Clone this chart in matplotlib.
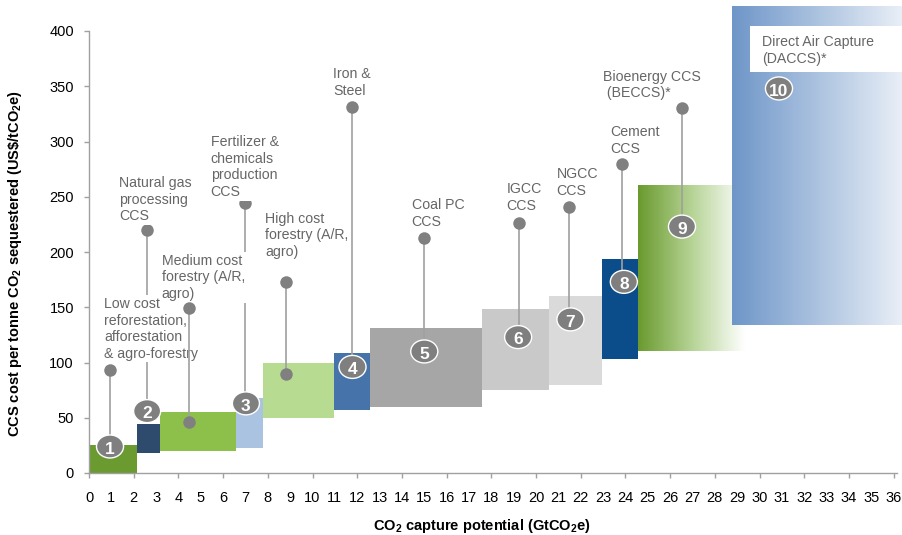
import numpy as np
import matplotlib
matplotlib.use("Agg")
import matplotlib.pyplot as plt
from matplotlib.patches import Ellipse, Rectangle
from matplotlib.colors import LinearSegmentedColormap

plt.rcParams['font.family'] = ['Liberation Sans', 'DejaVu Sans']
plt.rcParams['mathtext.fontset'] = 'custom'
plt.rcParams['mathtext.rm'] = 'Liberation Sans'
plt.rcParams['mathtext.bf'] = 'Liberation Sans:bold'

# ── Data ───────────────────────────────────────────────────────────────────
# solid cost blocks: x from/to (GtCO2e), cost low/high (US$/tCO2e)
bar_x0 = [0.0, 2.16, 3.18, 6.57, 7.78, 10.97, 12.57, 17.58, 20.59, 22.97]
bar_x1 = [2.16, 3.18, 6.57, 7.78, 10.97, 12.57, 17.58, 20.59, 22.97, 24.54]
bar_lo = [0, 18, 20, 23, 50, 57, 60, 75, 80, 103]
bar_hi = [25, 44, 55, 68, 100, 109, 131, 148, 160, 194]
bar_colors = ['#6a9a30', '#2e4a6d', '#8cc04a', '#a9c3e0', '#b8db92',
              '#4673aa', '#a6a6a6', '#c9c9c9', '#dadada', '#0b4d8b']

# gradient blocks (BECCS, DACCS)
beccs = (24.54, 29.3, 110, 260)
daccs = (28.77, 36.4, 134, 422)

# lollipop pointers
lolli_x   = [0.94, 2.58, 4.46, 7.0, 8.81, 11.75, 14.98, 19.23, 21.47, 23.85, 26.53]
lolli_top = [93, 220, 149, 244, 173, 331, 213, 226, 241, 280, 330]
lolli_bot = [24, 56, 46, 63, 90, 96, 110, 123, 139, 173, 223]
lolli_enddot = [False, False, True, False, True, False, False, False, False, False, False]

# numbered badges
badge_x = [0.94, 2.6, 7.02, 11.79, 15.0, 19.2, 21.54, 23.93, 26.53, 30.87]
badge_y = [24, 56, 63, 96, 110, 123, 139, 173, 223, 348]
badge_txt = [str(i) for i in range(1, 11)]

# labels: (x, y top, text)
labels = [
    (1.355, 269.0, "Natural gas\nprocessing\nCCS"),
    (5.44, 306.0, "Fertilizer &\nchemicals\nproduction\nCCS"),
    (7.87, 236.5, "High cost\nforestry (A/R,\nagro)"),
    (3.25, 198.5, "Medium cost\nforestry (A/R,\nagro)"),
    (0.67, 159.5, "Low cost\nreforestation,\nafforestation\n& agro-forestry"),
    (10.93, 367.0, "Iron &\nSteel"),
    (14.43, 249.0, "Coal PC\nCCS"),
    (18.68, 263.0, "IGCC\nCCS"),
    (20.92, 277.0, "NGCC\nCCS"),
    (23.3, 315.0, "Cement\nCCS"),
    (23.0, 365.0, "Bioenergy CCS\n (BECCS)*"),
]
dac_label = (30.13, 396.0, "Direct Air Capture\n(DACCS)*")

# ── Figure ─────────────────────────────────────────────────────────────────
fig = plt.figure(figsize=(9.02, 5.35), dpi=100)
ax = fig.add_axes([89 / 902, 62 / 535, 808 / 902, 442 / 535])

widths = np.array(bar_x1) - np.array(bar_x0)
heights = np.array(bar_hi) - np.array(bar_lo)
ax.bar(bar_x0, heights, width=widths, bottom=bar_lo, align='edge',
       color=bar_colors, edgecolor='none', zorder=2)

grad = np.linspace(0, 1, 256).reshape(1, -1)
cm_g = LinearSegmentedColormap.from_list('g', ['#6a9a2e', '#b5d395', '#ffffff'])
cm_b = LinearSegmentedColormap.from_list('b', ['#6e96c8', '#e9eff7'])
x0, x1, y0, y1 = beccs
ax.imshow(grad, cmap=cm_g, extent=[x0, x1, y0, y1], aspect='auto', zorder=2)
x0, x1, y0, y1 = daccs
im = ax.imshow(grad, cmap=cm_b, extent=[x0, x1, y0, y1], aspect='auto', zorder=2.1)
im.set_clip_on(False)

# lollipops
for i, (x, yt, yb) in enumerate(zip(lolli_x, lolli_top, lolli_bot)):
    z = 4.5 if i == 2 else 3
    ax.plot([x, x], [yt, yb], color='#a0a0a0', lw=1.2, zorder=z, solid_capstyle='butt')
    ax.plot(x, yt, 'o', color='#808080', ms=9, mec='none', zorder=z)
    if lolli_enddot[i]:
        ax.plot(x, yb, 'o', color='#808080', ms=9, mec='none', zorder=z)

# text labels (medium cost sits above the low cost box, its pointer above both)
for x, y, t in labels:
    z = 4.3 if t.startswith("Medium") else (4.2 if t.startswith("Low") else 4)
    ax.text(x, y, t, ha='left', va='top', fontsize=10.2, color='#666666',
            linespacing=1.25, zorder=z,
            bbox=dict(boxstyle='square,pad=0.1', fc='white', ec='none'))

# DAC label with white panel
x, y, t = dac_label
ax.add_patch(Rectangle((29.57, 363), 36.4 - 29.57, 41.5, fc='white', ec='none',
                       zorder=2.5, clip_on=False))
ax.text(x, y, t, ha='left', va='top', fontsize=10.2, color='#666666',
        linespacing=1.25, zorder=4, clip_on=False)

# badges
for x, y, t in zip(badge_x, badge_y, badge_txt):
    ax.add_patch(Ellipse((x, y), 1.21, 20.8, fc='#7f7f7f', ec='white', lw=1.0,
                         zorder=6, clip_on=False))
    ax.text(x, y - 2.5, t, ha='center', va='center', fontsize=12.5,
            fontweight='bold', color='white', zorder=7)

# axes styling
ax.set_xlim(0, 36.15)
ax.set_ylim(0, 400)
for s in ['top', 'right']:
    ax.spines[s].set_visible(False)
for s in ['left', 'bottom']:
    ax.spines[s].set_color('#a0a0a0')
    ax.spines[s].set_linewidth(1.0)

ax.set_yticks(range(0, 401, 50))
ax.set_xticks(range(0, 37))
ax.tick_params(axis='both', colors='#a0a0a0', labelcolor='black',
               labelsize=10.5, length=3.6, width=1.0)
ax.tick_params(axis='x', pad=9.4)
ax.tick_params(axis='y', pad=7.2)
for i, tk in enumerate(ax.xaxis.get_major_ticks()):
    if i % 2 == 1:
        tk.tick1line.set_visible(False)

ax.set_ylabel(r'CCS cost per tonne CO$_\mathbf{2}$ sequestered (US\$/tCO$_\mathbf{2}$e)',
              fontsize=10.5, fontweight='bold')
ax.yaxis.set_label_coords(-0.0805, 0.473)
ax.set_xlabel(r'CO$_\mathbf{2}$ capture potential (GtCO$_\mathbf{2}$e)',
              fontsize=10.5, fontweight='bold')
ax.xaxis.set_label_coords(0.486, -0.0995)

fig.savefig('out.png', dpi=100)
